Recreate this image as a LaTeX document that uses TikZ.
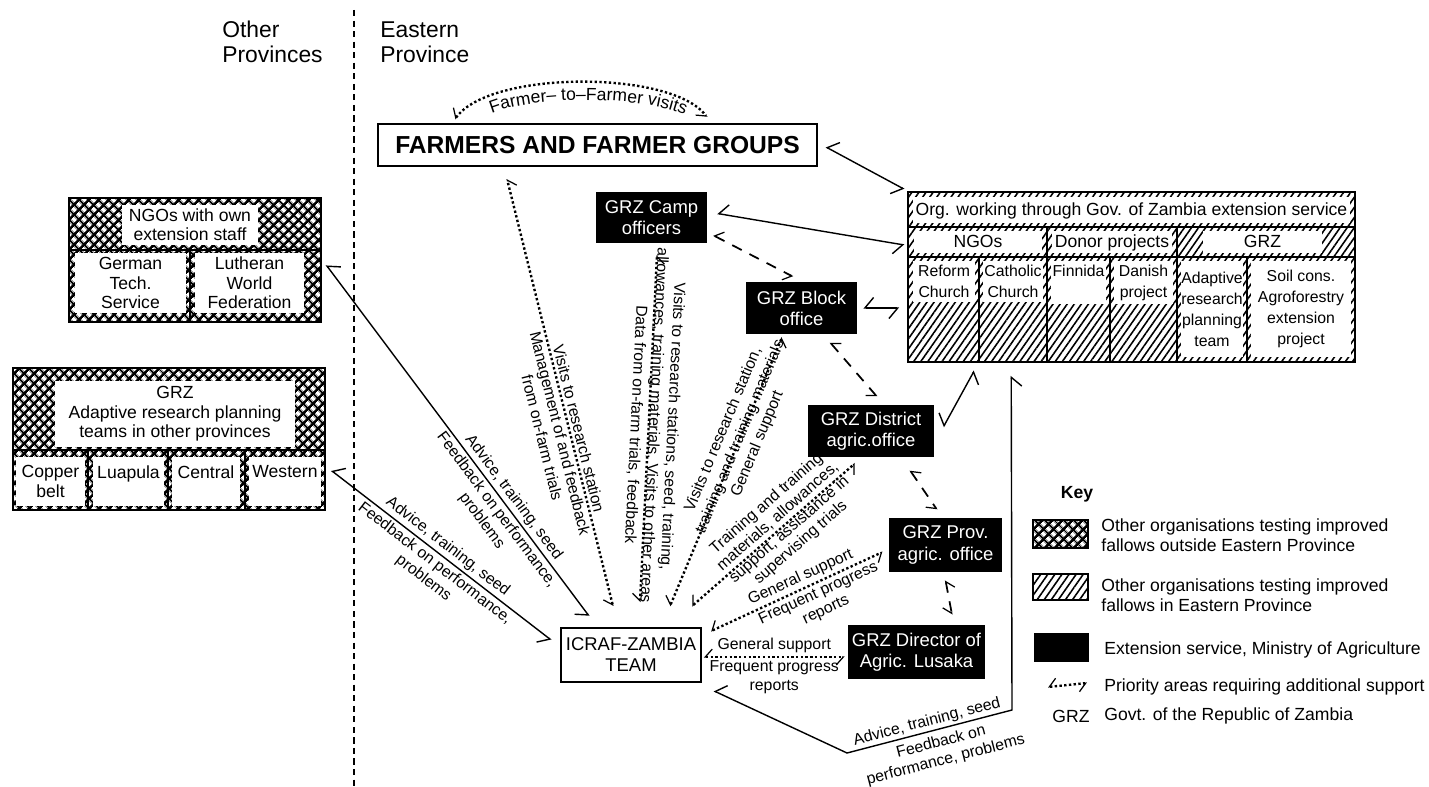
\documentclass[tikz,border=0pt]{standalone}
\usepackage{fontspec}
\setmainfont{Liberation Sans}
\usetikzlibrary{arrows.meta,patterns.meta,decorations.text}

\newcommand\boxfont{\fontsize{10.5}{12}\selectfont}
\newcommand\lblfont{\fontsize{9}{10.5}\selectfont}
\newcommand\tightfont{\fontsize{9}{9.8}\selectfont}
\newcommand\cellfont{\fontsize{9}{12}\selectfont}
\newcommand\orgfont{\fontsize{10}{11}\selectfont}
\newcommand\keyfont{\fontsize{10}{11.4}\selectfont}
\newcommand\farmfont{\bfseries\fontsize{14}{16}\selectfont}
\newcommand\regionfont{\fontsize{13}{14.2}\selectfont}
\newcommand\arcfont{\fontsize{10}{12}\selectfont}

\tikzset{
    hbarb/.tip={Straight Barb[harpoon,swap,length=5pt,width=12pt,line width=.8pt]},
    hdot/.tip={Straight Barb[harpoon,swap,length=4pt,width=9pt,line width=.7pt]},
    wh/.style 2 args={minimum width=#1*0.02cm,minimum height=#2*0.02cm},
    govbox/.style={fill=black,text=white,align=center,inner sep=0pt,font=\boxfont},
    mainbox/.style={draw,line width=1pt,fill=white,align=center,inner sep=0pt},
    cell/.style={fill=white,inner sep=0pt,align=center},
    rowcell/.style={cell,font=\orgfont,text height=1.6ex,text depth=.4ex},
    xhatch/.style={pattern={Hatch[angle=45,distance=4pt,line width=1.4pt]}},
    shatch/.style={pattern={Lines[angle=55,distance=3.3pt,line width=.9pt]}},
    link/.style={line width=.8pt,hbarb-hbarb},
    pri/.style={line width=1.35pt,dash pattern=on 1.35pt off 1.35pt,hdot-hdot},
    gov/.style={line width=1pt,dash pattern=on 6pt off 5pt,hdot-hdot},
    lbl/.style={font=\lblfont,inner sep=1.5pt,align=center},
    keytxt/.style={font=\keyfont,anchor=west,align=left,inner sep=0pt}
}

\begin{document}
\begin{tikzpicture}[x=0.02cm,y=-0.02cm]
        \useasboundingbox (0,0) rectangle (1429,787);

        \draw[line width=1pt,dash pattern=on 3.5pt off 2.5pt] (354,10) -- (354,787);
        \node[font=\regionfont,anchor=west,align=left,inner sep=0pt] (other) at (222,42) {Other\\Provinces};
        \node[font=\regionfont,anchor=west,align=left,inner sep=0pt] (eastern) at (380,42) {Eastern\\Province};

        \node[draw,line width=1.5pt,xhatch,wh={252}{124}] (ngo) at (195,260) {};
        \draw[line width=.8pt] (69,250) -- (321,250) (190,250) -- (190,322);
        \node[cell,font=\orgfont,wh={136}{40}] (ngot) at (190,225) {NGOs with own\\extension staff};
        \node[cell,font=\orgfont,wh={111}{60}] (gts) at (130.5,283) {German\\Tech.\\Service};
        \node[cell,font=\orgfont,wh={109}{60}] (lwf) at (249.5,283) {Lutheran\\World\\Federation};

        \node[draw,line width=1.5pt,xhatch,wh={312}{142}] (grz) at (169,439) {};
        \draw[line width=.8pt] (13,450) -- (325,450) (88,450) -- (88,510) (168,450) -- (168,510) (245,450) -- (245,510);
        \node[cell,font=\orgfont,wh={240}{66}] (grzt) at (175,414) {GRZ\\Adaptive research planning\\teams in other provinces};
        \node[cell,font=\orgfont,wh={69}{49}] (copper) at (50.5,481.5) {Copper\\belt};
        \node[cell,font=\orgfont,wh={71}{49}] (luapula) at (128.5,481.5) {Luapula\\\phantom{belt}};
        \node[cell,font=\orgfont,wh={68}{49}] (central) at (206,481.5) {Central\\\phantom{belt}};
        \node[cell,font=\orgfont,wh={72}{49}] (west) at (285,481.5) {Western\\\phantom{belt}};

        \node[draw,line width=1.2pt,shatch,wh={447}{170}] (org) at (1131.5,277) {};
        \draw[line width=.8pt] (908,227) -- (1355,227) (908,257) -- (1355,257)
            (1047,227) -- (1047,362) (1177,227) -- (1177,362)
            (979,257) -- (979,362) (1110,257) -- (1110,362) (1247,257) -- (1247,362);
        \node[rowcell,wh={437}{26}] (orgt) at (1131.5,210) {Org. working through Gov. of Zambia extension service};
        \node[rowcell,wh={128}{22}] (ngos) at (978,242) {NGOs};
        \node[rowcell,wh={120}{22}] (donor) at (1112,242) {Donor projects};
        \node[rowcell,wh={119}{22}] (grzorg) at (1262.5,242) {GRZ};
        \node[cell,font=\cellfont,wh={62}{41}] (reform) at (944,281.5) {Reform\\Church};
        \node[cell,font=\cellfont,wh={60}{41}] (catholic) at (1013,281.5) {Catholic\\Church};
        \node[cell,font=\cellfont,wh={55}{43}] (finnida) at (1078.5,282.5) {Finnida\\\phantom{project}};
        \node[cell,font=\cellfont,wh={59}{43}] (danish) at (1143.5,282.5) {Danish\\project};
        \node[cell,font=\cellfont,wh={62}{96}] (arpt) at (1212,309) {Adaptive\\research\\planning\\team};
        \node[cell,font=\cellfont,wh={100}{96}] (soil) at (1301,309) {Soil cons.\\Agroforestry\\extension\\project};

        \node[mainbox,font=\farmfont,wh={439}{42}] (farm) at (597.5,145) {FARMERS AND FARMER GROUPS};
        \node[mainbox,font=\boxfont,wh={140}{54}] (icraf) at (631,655) {ICRAF-ZAMBIA\\TEAM};
        \node[govbox,wh={111}{51}] (camp) at (651.5,217.5) {GRZ Camp\\officers};
        \node[govbox,wh={111}{52}] (block) at (801.5,308) {GRZ Block\\office};
        \node[govbox,wh={126}{52}] (dist) at (871,431) {GRZ District\\agric.office};
        \node[govbox,wh={113}{54}] (prov) at (945.5,545) {GRZ Prov.\\agric. office};
        \node[govbox,wh={137}{54}] (dir) at (916.5,652) {GRZ Director of\\Agric. Lusaka};

        \draw[pri] ([shift={(-142.5,-4)}]farm.north) .. controls (490,70) and (672,70) .. ([shift={(109.5,-6)}]farm.north);
        \path[decorate,decoration={text along path,text align=center,text={|\arcfont|Farmer– to–Farmer visits}}]
            (478,121) .. controls (512,93) and (664,93) .. (698,123);

        \draw[link] ([shift={(8,2)}]farm.east) -- ([shift={(-3,-2)}]org.north west);
        \draw[link] ([shift={(10,-4)}]camp.east) -- ([shift={(-3,-32)}]org.west);
        \draw[link] ([shift={(6,0)}]block.east) -- ([shift={(-8,31)}]org.west);
        \draw[link] ([shift={(9,-4)}]dist.east) -- ([shift={(67,8)}]org.south west);

        \coordinate (bend1) at (847,753);
        \coordinate (bend2) at (1012,710);
        \draw[link] ([shift={(12,8)}]icraf.south east) -- (bend1)
            -- node[lbl,sloped,above,inner sep=1pt] (l1) {Advice, training, seed}
               node[lbl,sloped,below=2pt,pos=.55,inner sep=1pt] (l2) {Feedback on\\performance, problems} (bend2)
            -- ([shift={(104,13)}]org.south west);

        \draw[link] ([shift={(4,5)}]ngo.east)
            -- node[lbl,sloped,above,pos=.68] (l3) {Advice, training, seed}
               node[lbl,sloped,below,pos=.68] (l4) {Feedback on performance,\\problems} ([shift={(29,-11)}]icraf.north west);
        \draw[link] ([shift={(10,-11)}]west.east)
            -- node[lbl,sloped,above,pos=.5] (l5) {Advice, training, seed}
               node[lbl,sloped,below,pos=.5] (l6) {Feedback on performance,\\problems} ([shift={(-9,-15)}]icraf.west);

        \draw[pri] ([shift={(-18,-21)}]icraf.north)
            -- node[lbl,sloped,above,pos=.41] (l7) {Visits to research station}
               node[lbl,sloped,below,pos=.41] (l8) {Management of and feedback\\from on-farm trials} ([shift={(-90.5,12)}]farm.south);
        \draw[pri] ([shift={(5.5,12)}]camp.south)
            -- node[lbl,sloped,allow upside down,pos=.49,yshift=3pt] (l9) {Visits to research stations, seed, training,\\allowances, training materials, Visits to other areas\\Data from on-farm trials, feedback} ([shift={(9,-25)}]icraf.north);
        \draw[pri] ([shift={(39,-21)}]icraf.north)
            -- node[lbl,sloped,pos=.63] (l10) {Visits to research station,\\training and training materials\\General support} ([shift={(-19.5,3)}]block.south);
        \draw[pri] ([shift={(61,-21)}]icraf.north)
            -- node[lbl,font=\tightfont,sloped,pos=.57,yshift=1pt] (l11) {Training and training\\materials, allowances,\\support, assistance in\\supervising trials} ([shift={(-16,6)}]dist.south);
        \draw[pri] ([shift={(9,4)}]icraf.north east)
            -- node[lbl,sloped,above,pos=.55] (l12) {General support}
               node[lbl,sloped,below,pos=.6] (l13) {Frequent progress\\reports} ([shift={(-6,7)}]prov.west);
        \draw[pri] ([shift={(2,2)}]icraf.east)
            -- node[lbl,above] (l14) {General support}
               node[lbl,below] (l15) {Frequent progress\\reports} ([shift={(-3,5)}]dir.west);

        \draw[gov] ([shift={(6,-8)}]camp.south east) -- ([shift={(-8.5,-5)}]block.north);
        \draw[gov] ([shift={(28.5,8)}]block.south) -- ([shift={(6,-8)}]dist.north);
        \draw[gov] ([shift={(39,13)}]dist.south) -- ([shift={(-8.5,-8)}]prov.north);
        \draw[gov] ([shift={(0,8)}]prov.south) -- ([shift={(35.5,-10)}]dir.north);

        \node[font=\bfseries\keyfont,inner sep=0pt] (key) at (1077,494) {Key};
        \node[draw,line width=1pt,xhatch,wh={55}{28}] (kcross) at (1060.5,534) {};
        \node[keytxt] (kcrosst) at (1101,535) {Other organisations testing improved\\fallows outside Eastern Province};
        \node[draw,line width=1pt,shatch,wh={55}{26}] (khatch) at (1060.5,587) {};
        \node[keytxt] (khatcht) at (1101,595) {Other organisations testing improved\\fallows in Eastern Province};
        \node[fill=black,inner sep=0pt,wh={55}{29}] (kblack) at (1061.5,647.5) {};
        \node[keytxt] (kblackt) at (1104,650) {Extension service, Ministry of Agriculture};
        \coordinate (karrow1) at (1048,687);
        \coordinate (karrow2) at (1087,683);
        \draw[pri] (karrow1) -- (karrow2);
        \node[keytxt] (kpri) at (1104,687) {Priority areas requiring additional support};
        \node[font=\keyfont,inner sep=0pt] (kgrz) at (1071,716) {GRZ};
        \node[keytxt] (kgrzt) at (1104,716) {Govt. of the Republic of Zambia};
    \end{tikzpicture}
\end{document}
